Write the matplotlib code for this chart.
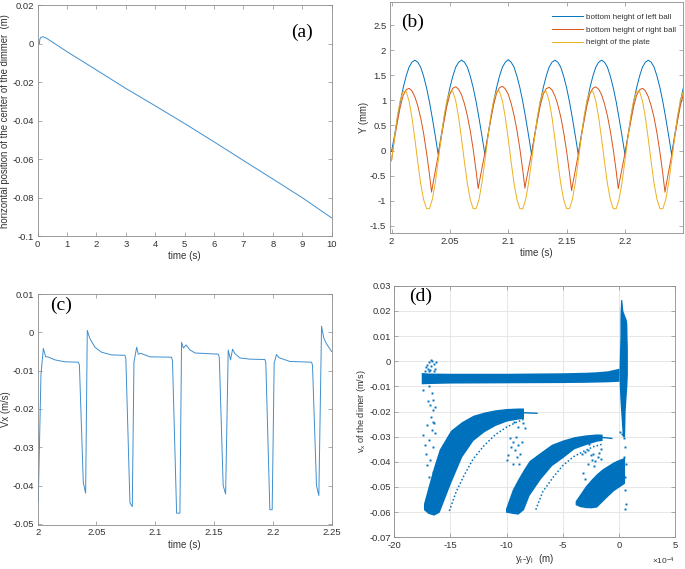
import numpy as np
import matplotlib

matplotlib.use("Agg")
import matplotlib.pyplot as plt  # noqa: E402
from matplotlib.ticker import FuncFormatter, MultipleLocator  # noqa: E402

plt.rcParams["font.family"] = ["Liberation Sans", "DejaVu Sans"]
plt.rcParams["axes.unicode_minus"] = False
plt.rcParams["mathtext.fontset"] = "custom"
plt.rcParams["mathtext.rm"] = "Liberation Sans"
plt.rcParams["mathtext.it"] = "Liberation Sans"

BLUE = "#0072BD"
RED = "#D95319"
YELLOW = "#EDB120"
LINE_A = "#3f8fcf"
SPINE = "#8c8c8c"
TEXT = "#333333"
GRID = "#e3e3e3"

# ── (a) horizontal position of the dimer centre ─────────────────────────────
a_t = [0.06, 0.07, 0.10, 0.17, 0.30, 1, 2, 3, 4, 5, 6, 7, 8, 9, 10]
a_x = [0.0, 0.0020, 0.0031, 0.0036, 0.0028, -0.0042, -0.0137, -0.0233,
       -0.0323, -0.0415, -0.0510, -0.0607, -0.0703, -0.0800, -0.0905]

# ── (b) heights, sampled every 2.5 ms from 2.0 s to 2.25 s ─────────────────
b_t = np.linspace(2.0, 2.25, 101)
b_left = [
    -0.02, 0.29, 0.64, 0.97, 1.25, 1.48, 1.66, 1.76, 1.80, 1.76, 1.66, 1.48, 1.25, 0.97, 0.64, 0.29,
    -0.08, 0.29, 0.64, 0.97, 1.25, 1.48, 1.66, 1.76, 1.80, 1.76, 1.66, 1.48, 1.25, 0.97, 0.64, 0.29,
    -0.08, 0.29, 0.64, 0.97, 1.25, 1.48, 1.66, 1.76, 1.81, 1.76, 1.66, 1.48, 1.25, 0.97, 0.64, 0.29,
    -0.08, 0.29, 0.64, 0.97, 1.25, 1.48, 1.66, 1.76, 1.80, 1.76, 1.66, 1.48, 1.25, 0.97, 0.64, 0.29,
    -0.08, 0.29, 0.64, 0.97, 1.25, 1.48, 1.66, 1.76, 1.80, 1.76, 1.66, 1.48, 1.25, 0.97, 0.64, 0.29,
    -0.08, 0.29, 0.64, 0.97, 1.25, 1.48, 1.66, 1.76, 1.80, 1.76, 1.66, 1.48, 1.25, 0.97, 0.64, 0.29,
    -0.08, 0.29, 0.64, 0.97, 1.25,
]
b_right = [
    -0.20, 0.23, 0.56, 0.87, 1.10, 1.21, 1.24, 1.19, 1.07, 0.89, 0.65, 0.34, -0.04, -0.47, -0.73, -0.41,
    -0.10, 0.24, 0.58, 0.89, 1.12, 1.24, 1.27, 1.22, 1.11, 0.93, 0.69, 0.39, 0.02, -0.41, -0.66, -0.35,
    -0.05, 0.28, 0.61, 0.91, 1.14, 1.25, 1.28, 1.23, 1.12, 0.94, 0.70, 0.40, 0.03, -0.40, -0.65, -0.35,
    -0.05, 0.28, 0.60, 0.90, 1.12, 1.23, 1.26, 1.21, 1.09, 0.91, 0.67, 0.36, -0.01, -0.45, -0.70, -0.39,
    -0.08, 0.26, 0.59, 0.90, 1.13, 1.24, 1.27, 1.22, 1.11, 0.93, 0.69, 0.39, 0.02, -0.41, -0.66, -0.36,
    -0.06, 0.26, 0.58, 0.88, 1.10, 1.21, 1.24, 1.19, 1.07, 0.89, 0.65, 0.34, -0.04, -0.47, -0.73, -0.41,
    -0.10, 0.24, 0.58, 0.89, 1.12,
]
# impact minima of the right ball (between the 2.5 ms samples)
b_right_min_t = [2.0343, 2.0743, 2.1143, 2.1543, 2.1943, 2.2343]
b_right_min = [-0.83, -0.76, -0.75, -0.80, -0.76, -0.83]
b_plate = [
    -0.21, 0.25, 0.68, 1.00, 1.18, 1.18, 0.99, 0.66, 0.23, -0.23, -0.66, -0.98, -1.16, -1.16, -0.97, -0.64,
    -0.21, 0.25, 0.68, 1.00, 1.18, 1.18, 0.99, 0.66, 0.23, -0.23, -0.66, -0.98, -1.16, -1.16, -0.97, -0.64,
    -0.21, 0.25, 0.68, 1.00, 1.18, 1.18, 0.99, 0.66, 0.23, -0.23, -0.66, -0.98, -1.16, -1.16, -0.97, -0.64,
    -0.21, 0.25, 0.68, 1.00, 1.18, 1.18, 0.99, 0.66, 0.23, -0.23, -0.66, -0.98, -1.16, -1.16, -0.97, -0.64,
    -0.21, 0.25, 0.68, 1.00, 1.18, 1.18, 0.99, 0.66, 0.23, -0.23, -0.66, -0.98, -1.16, -1.16, -0.97, -0.64,
    -0.21, 0.25, 0.68, 1.00, 1.18, 1.18, 0.99, 0.66, 0.23, -0.23, -0.66, -0.98, -1.16, -1.16, -0.97, -0.64,
    -0.21, 0.25, 0.68, 1.00, 1.18,
]
b_labels = ["bottom height of left ball", "bottom height of right ball", "height of the plate"]

# ── (c) horizontal velocity ─────────────────────────────────────────────────
c_t = [2.0000, 2.0005, 2.0028, 2.0048, 2.0068, 2.0085, 2.0147, 2.0232, 2.0345, 2.0355,
       2.0388, 2.0408, 2.0422, 2.0445, 2.0487, 2.0544, 2.0629, 2.0742, 2.0750, 2.0785,
       2.0805, 2.0819, 2.0842, 2.0856, 2.0878, 2.0955, 2.1139, 2.1147, 2.1182, 2.1210,
       2.1224, 2.1240, 2.1262, 2.1295, 2.1340, 2.1536, 2.1545, 2.1578, 2.1599, 2.1621,
       2.1641, 2.1658, 2.1677, 2.1720, 2.1805, 2.1933, 2.1941, 2.1975, 2.1995, 2.2012,
       2.2032, 2.2052, 2.2088, 2.2145, 2.2330, 2.2338, 2.2372, 2.2392, 2.2415, 2.2434,
       2.2457, 2.2500]
c_v = [-0.0425, -0.0440, -0.0110, -0.0042, -0.0064, -0.0064, -0.0072, -0.0077, -0.0078, -0.0085,
       -0.0392, -0.0420, 0.0005, -0.0017, -0.0039, -0.0052, -0.0059, -0.0060, -0.0068, -0.0445,
       -0.0455, -0.0078, -0.0039, -0.0057, -0.0055, -0.0064, -0.0065, -0.0075, -0.0472, -0.0472,
       -0.0026, -0.0041, -0.0033, -0.0046, -0.0054, -0.0057, -0.0065, -0.0400, -0.0422, -0.0046,
       -0.0072, -0.0044, -0.0055, -0.0067, -0.0070, -0.0071, -0.0080, -0.0463, -0.0463, -0.0080,
       -0.0058, -0.0066, -0.0070, -0.0076, -0.0078, -0.0086, -0.0400, -0.0426, 0.0016, -0.0015,
       -0.0030, -0.0050]

# ── (d) phase portrait, x in units of 1e-4 m ───────────────────────────────
# horizontal band
d_h_x = [-17.6, -17.0, -15.0, -10.0, -5.0, -3.0, -2.0, -1.0, -0.5, 0.0]
d_h_top = [-0.0045, -0.0047, -0.0048, -0.0048, -0.0046, -0.0044, -0.0042, -0.0038, -0.0033, -0.0028]
d_h_bot = [-0.0090, -0.0089, -0.0087, -0.0086, -0.0085, -0.0084, -0.0083, -0.0082, -0.0081, -0.0080]
# vertical spike near zero
d_s_y = [-0.030, -0.020, -0.015, -0.010, -0.005, 0.000, 0.005, 0.010, 0.015, 0.0165, 0.020, 0.0245]
d_s_left = [0.30, 0.15, 0.08, 0.03, 0.00, 0.02, 0.05, 0.08, 0.08, 0.08, 0.10, 0.15]
d_s_right = [0.50, 0.55, 0.62, 0.70, 0.75, 0.75, 0.75, 0.72, 0.70, 0.65, 0.35, 0.25]
# three arcs
d_a1_x = [-17.4, -17.0, -16.5, -16.0, -15.0, -14.0, -13.0, -12.0, -11.0, -10.0, -9.0, -8.5]
d_a1_top = [-0.0565, -0.0500, -0.0420, -0.0350, -0.0275, -0.0240, -0.0215, -0.0202, -0.0193,
            -0.0188, -0.0186, -0.0186]
d_a1_bot = [-0.0590, -0.0605, -0.0612, -0.0600, -0.0485, -0.0380, -0.0315, -0.0280, -0.0255,
            -0.0238, -0.0230, -0.0228]
d_a2_x = [-10.1, -9.5, -9.0, -8.5, -8.0, -7.0, -6.0, -5.0, -4.0, -3.0, -2.0, -1.5]
d_a2_top = [-0.0585, -0.0510, -0.0468, -0.0430, -0.0395, -0.0362, -0.0330, -0.0313, -0.0300,
            -0.0293, -0.0289, -0.0290]
d_a2_bot = [-0.0600, -0.0605, -0.0608, -0.0590, -0.0533, -0.0468, -0.0415, -0.0383, -0.0348,
            -0.0332, -0.0318, -0.0315]
d_a3_x = [-3.9, -3.5, -3.0, -2.5, -2.0, -1.5, -1.0, -0.5, 0.0, 0.5]
d_a3_top = [-0.0555, -0.0529, -0.0496, -0.0470, -0.0447, -0.0428, -0.0414, -0.0400, -0.0390, -0.0382]
d_a3_bot = [-0.0570, -0.0578, -0.0582, -0.0583, -0.0580, -0.0558, -0.0536, -0.0515, -0.0500, -0.0485]
# thin trailing branches of the arcs
d_l1_x = [-15.1, -14.5, -13.8, -13.0, -12.0, -11.0, -10.0, -9.0, -8.5]
d_l1_y = [-0.0595, -0.0520, -0.0455, -0.0390, -0.0335, -0.0292, -0.0262, -0.0240, -0.0232]
d_l2_x = [-7.4, -6.8, -5.84, -5.0, -4.06, -3.0, -2.27, -1.5]
d_l2_y = [-0.0590, -0.0520, -0.0460, -0.0415, -0.0380, -0.0355, -0.0340, -0.0330]
d_tail1_x = [-8.5, -7.3]
d_tail1_y = [-0.0205, -0.0207]
d_tail2_x = [-1.7, -0.64]
d_tail2_y = [-0.0302, -0.0307]
# scattered single points
d_pts_x = [-17.3, -17.1, -16.9, -16.7, -16.5, -16.3, -16.4, -17.0, -16.8, -16.6, -17.2, -16.9, -16.45, -16.7,
           -17.42, -16.88, -16.67, -16.53, -16.82, -16.59, -16.38, -16.76, -16.53, -17.12, -16.67, -16.38,
           -17.42, -16.88, -16.53, -17.18, -16.82, -17.06, -16.59, -16.88, -17.27, -16.47, -16.97,
           -9.85, -9.64, -9.40, -9.25, -9.10, -9.46, -8.96, -8.81, -9.70, -9.16, -8.66, -9.34, -8.96,
           -8.57, -8.36, -9.93, -8.87,
           -3.31, -3.02, -2.72, -2.51, -2.27, -2.39, -2.10, -1.89, -1.74, -2.78, -2.22, -3.22, -2.99,
           -1.63, -2.63, -1.63,
           0.46, 0.55, 0.49, 0.64, 0.58, 0.52, 0.61, 0.55, 0.10, 0.25]
d_pts_y = [-0.0040, -0.0015, -0.0005, -0.0020, -0.0010, -0.0005, -0.0030, -0.0030, -0.0035, 0.0000,
           -0.0025, -0.0040, -0.0038, 0.0003,
           -0.0113, -0.0100, -0.0127, -0.0153, -0.0173, -0.0193, -0.0183, -0.0220, -0.0240, -0.0253,
           -0.0273, -0.0287, -0.0293, -0.0313, -0.0340, -0.0367, -0.0393, -0.0413, -0.0440, -0.0460,
           -0.0333, -0.0245, -0.0160,
           -0.0373, -0.0340, -0.0320, -0.0353, -0.0380, -0.0407, -0.0333, -0.0367, -0.0307, -0.0300,
           -0.0320, -0.0243, -0.0260, -0.0247, -0.0267, -0.0393, -0.0407,
           -0.0367, -0.0360, -0.0353, -0.0373, -0.0367, -0.0391, -0.0396, -0.0380, -0.0364, -0.0409,
           -0.0417, -0.0444, -0.0467, -0.0351, -0.0329, -0.0387,
           -0.0307, -0.0340, -0.0380, -0.0407, -0.0460, -0.0513, -0.0567, -0.0587, -0.0280, -0.0289]


def g_fmt(v, _pos):
    v = round(v, 8)
    return "0" if v == 0 else f"{v:g}"


def e4_fmt(v, _pos):
    return g_fmt(v / 1e-4, _pos)


def style(ax):
    for s in ax.spines.values():
        s.set_color(SPINE)
        s.set_linewidth(0.6)
    ax.tick_params(direction="in", top=True, right=True, length=3, width=0.5,
                   colors=SPINE, labelcolor=TEXT, labelsize=6.8, pad=2.5)
    ax.yaxis.set_major_formatter(FuncFormatter(g_fmt))
    ax.xaxis.set_major_formatter(FuncFormatter(g_fmt))


def panel_tag(ax, text, x, y):
    ax.text(x, y, text, transform=ax.transAxes, ha="center", va="center",
            fontsize=14, family="Liberation Serif", color="black")


fig = plt.figure(figsize=(6.85, 5.69), dpi=100)
fig.patch.set_facecolor("white")

ax_a = fig.add_axes([0.055, 0.585, 0.429, 0.406])
ax_b = fig.add_axes([0.569, 0.590, 0.428, 0.4065])
ax_c = fig.add_axes([0.055, 0.0773, 0.429, 0.406])
ax_d = fig.add_axes([0.5756, 0.0557, 0.41, 0.4422])

# (a)
ax_a.plot(a_t, a_x, color=LINE_A, lw=0.7)
ax_a.set_xlim(0, 10)
ax_a.set_ylim(-0.1, 0.02)
ax_a.xaxis.set_major_locator(MultipleLocator(1))
ax_a.yaxis.set_major_locator(MultipleLocator(0.02))
style(ax_a)
ax_a.set_xlabel("time (s)", fontsize=7, color=TEXT, labelpad=1.5)
ax_a.set_ylabel("horizontal position of the center of the dimmer  (m)", fontsize=6.9,
                color=TEXT, labelpad=1.5)
panel_tag(ax_a, "(a)", 0.899, 0.884)

# (b)
rt = np.concatenate([b_t, b_right_min_t])
rv = np.concatenate([b_right, b_right_min])
order = np.argsort(rt)
ax_b.plot(b_t, b_left, color=BLUE, lw=0.7, label=b_labels[0])
ax_b.plot(rt[order], rv[order], color=RED, lw=0.7, label=b_labels[1])
ax_b.plot(b_t, b_plate, color=YELLOW, lw=0.7, label=b_labels[2])
ax_b.set_xlim(1.9985, 2.2497)
ax_b.set_ylim(-1.65, 2.96)
ax_b.xaxis.set_major_locator(MultipleLocator(0.05))
ax_b.yaxis.set_major_locator(MultipleLocator(0.5))
style(ax_b)
ax_b.set_xlabel("time (s)", fontsize=7, color=TEXT, labelpad=1.5)
ax_b.set_ylabel("Y (mm)", fontsize=6.9, color=TEXT, labelpad=1)
ax_b.legend(loc="upper left", bbox_to_anchor=(551.7 / 685, 1 - 13 / 569),
            bbox_transform=fig.transFigure, frameon=False, fontsize=5.8,
            borderpad=0, borderaxespad=0, handlelength=3.85, handletextpad=0.35,
            labelspacing=0.65, labelcolor=TEXT)
panel_tag(ax_b, "(b)", 0.0775, 0.9105)

# (c)
ax_c.plot(c_t, c_v, color=LINE_A, lw=0.7)
ax_c.set_xlim(2.0, 2.25)
ax_c.set_ylim(-0.0503, 0.01)
ax_c.xaxis.set_major_locator(MultipleLocator(0.05))
ax_c.yaxis.set_major_locator(MultipleLocator(0.01))
style(ax_c)
ax_c.set_xlabel("time (s)", fontsize=7, color=TEXT, labelpad=1.5)
ax_c.set_ylabel("Vx (m/s)", fontsize=6.9, color=TEXT, labelpad=1)
panel_tag(ax_c, "(c)", 0.079, 0.952)

# (d)
k = 1e-4
ax_d.fill_between(np.array(d_h_x) * k, d_h_bot, d_h_top, color=BLUE, lw=0)
ax_d.fill_betweenx(d_s_y, np.array(d_s_left) * k, np.array(d_s_right) * k, color=BLUE, lw=0)
for xs, top, bot in [(d_a1_x, d_a1_top, d_a1_bot), (d_a2_x, d_a2_top, d_a2_bot),
                     (d_a3_x, d_a3_top, d_a3_bot)]:
    ax_d.fill_between(np.array(xs) * k, bot, top, color=BLUE, lw=0)
for xs, ys in [(d_l1_x, d_l1_y), (d_l2_x, d_l2_y)]:
    ax_d.plot(np.array(xs) * k, ys, color=BLUE, lw=1.1, ls=(0, (1, 1.4)))
for xs, ys in [(d_tail1_x, d_tail1_y), (d_tail2_x, d_tail2_y)]:
    ax_d.plot(np.array(xs) * k, ys, color=BLUE, lw=1.0)
ax_d.plot(np.array(d_pts_x) * k, d_pts_y, ls="none", marker="s", ms=1.4, mew=0, color=BLUE)
ax_d.set_xlim(-20e-4, 5e-4)
ax_d.set_ylim(-0.07, 0.03)
ax_d.xaxis.set_major_locator(MultipleLocator(5e-4))
ax_d.yaxis.set_major_locator(MultipleLocator(0.01))
ax_d.grid(True, color=GRID, lw=0.6)
ax_d.set_axisbelow(True)
style(ax_d)
ax_d.xaxis.set_major_formatter(FuncFormatter(e4_fmt))
ax_d.text(1.0, -0.075, r"$\times$10$^{-4}$", transform=ax_d.transAxes, ha="right", va="top",
          fontsize=6, color=TEXT)
ax_d.set_xlabel(r"y$_{\rm r}$-y$_{\rm l}$  (m)", fontsize=7, color=TEXT, labelpad=1.5)
ax_d.set_ylabel(r"v$_{\rm x}$ of the dimer (m/s)", fontsize=6.6, color=TEXT, labelpad=1)
panel_tag(ax_d, "(d)", 0.095, 0.956)

fig.savefig("out.png", dpi=100, facecolor="white")
